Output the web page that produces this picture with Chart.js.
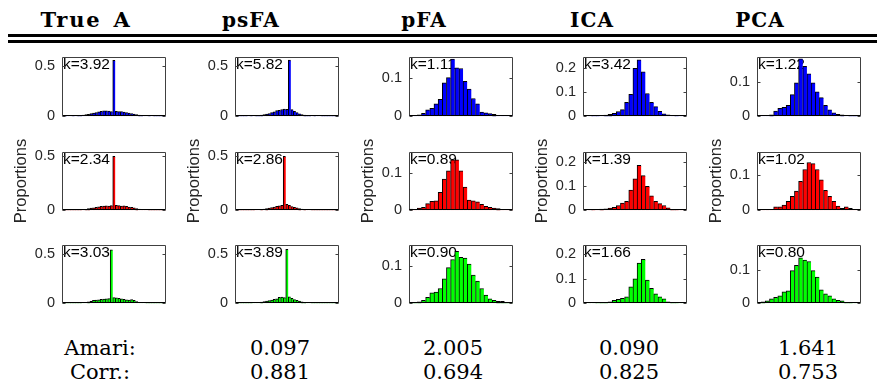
<!DOCTYPE html>
<html><head><meta charset="utf-8">
<script src="https://cdn.jsdelivr.net/npm/chart.js@4.4.1/dist/chart.umd.min.js"></script>
<style>
html,body{margin:0;padding:0;background:#fff;}
#wrap{position:relative;width:885px;height:386px;overflow:hidden;background:#fff;}
.hdr{position:absolute;top:8px;font:bold 20px "DejaVu Serif";transform:translateX(-50%);white-space:nowrap;letter-spacing:1px;color:#000;line-height:normal}
.rule{position:absolute;left:8px;width:869px;height:3px;background:#000}
.ft{position:absolute;font:21px "DejaVu Serif";transform:translateX(-50%);white-space:nowrap;color:#000;line-height:normal}
canvas{position:absolute}
</style></head><body><div id="wrap"></div>
<script>
// ---- data ----
const methods = ["True A", "psFA", "pFA", "ICA", "PCA"];
const rowLabels = ["Amari:", "Corr.:"];
const amari = ["0.097", "2.005", "0.090", "1.641"];
const corr = ["0.881", "0.694", "0.825", "0.753"];
const kurt_trueA = ["3.92", "2.34", "3.03"];
const kurt_psFA = ["5.82", "2.86", "3.89"];
const kurt_pFA = ["1.11", "0.89", "0.90"];
const kurt_ICA = ["3.42", "1.39", "1.66"];
const kurt_PCA = ["1.22", "1.02", "0.80"];

const trueA_comp1 = [0.002,0.002,0.003,0.003,0.004,0.005,0.007,0.010,0.013,0.016,0.020,0.026,0.032,0.038,0.045,0.050,0.054,0.055,0.052,0.048,0.557,0.050,0.046,0.048,0.042,0.038,0.032,0.028,0.022,0.016,0.012,0.009,0.006,0.005,0.004,0.003,0.002,0.002,0.002,0.001,0.001];
const trueA_comp2 = [0.002,0.003,0.004,0.002,0.001,0.002,0.003,0.004,0.006,0.010,0.016,0.020,0.024,0.028,0.032,0.036,0.038,0.042,0.040,0.044,0.500,0.046,0.044,0.038,0.042,0.036,0.030,0.028,0.022,0.016,0.012,0.008,0.006,0.005,0.004,0.003,0.003,0.002,0.002,0.002,0.001];
const trueA_comp3 = [0.001,0.001,0.001,0.002,0.002,0.002,0.003,0.004,0.006,0.010,0.016,0.020,0.030,0.034,0.036,0.040,0.042,0.045,0.048,0.545,0.058,0.055,0.050,0.045,0.040,0.036,0.032,0.038,0.030,0.018,0.010,0.008,0.006,0.005,0.004,0.003,0.003,0.002,0.002,0.001,0.001];
const psFA_comp1 = [0.001,0.001,0.001,0.002,0.002,0.003,0.004,0.005,0.007,0.009,0.012,0.016,0.022,0.028,0.036,0.045,0.058,0.060,0.068,0.072,0.070,0.560,0.066,0.050,0.036,0.025,0.017,0.012,0.009,0.007,0.005,0.004,0.003,0.003,0.002,0.002,0.002,0.001,0.001,0.001,0.001];
const psFA_comp2 = [0.001,0.001,0.001,0.002,0.002,0.002,0.003,0.004,0.005,0.007,0.009,0.012,0.016,0.020,0.025,0.030,0.036,0.042,0.045,0.500,0.055,0.045,0.035,0.028,0.022,0.016,0.012,0.009,0.007,0.005,0.004,0.003,0.003,0.002,0.002,0.002,0.001,0.001,0.001,0.001,0.001];
const psFA_comp3 = [0.001,0.001,0.001,0.002,0.002,0.003,0.004,0.006,0.008,0.010,0.013,0.017,0.022,0.028,0.034,0.040,0.045,0.060,0.062,0.058,0.550,0.065,0.050,0.038,0.030,0.022,0.016,0.011,0.008,0.006,0.004,0.003,0.003,0.002,0.002,0.002,0.001,0.001,0.001,0.001,0.001];
const pFA_comp1 = [0.002,0.002,0.004,0.008,0.017,0.021,0.033,0.045,0.088,0.102,0.151,0.128,0.126,0.092,0.072,0.047,0.033,0.011,0.009,0.007,0.005,0.002,0.002,0.002,0.001];
const pFA_comp2 = [0.003,0.002,0.006,0.008,0.018,0.024,0.026,0.049,0.085,0.107,0.137,0.137,0.107,0.063,0.028,0.026,0.023,0.016,0.011,0.008,0.006,0.005,0.002,0.002,0.001];
const pFA_comp3 = [0.002,0.002,0.004,0.008,0.016,0.028,0.030,0.040,0.066,0.096,0.118,0.140,0.124,0.122,0.106,0.076,0.060,0.040,0.022,0.012,0.008,0.005,0.005,0.002,0.001];
const ICA_comp1 = [0.001,0.001,0.002,0.002,0.003,0.005,0.008,0.012,0.020,0.028,0.058,0.091,0.200,0.235,0.185,0.095,0.058,0.040,0.021,0.010,0.006,0.003,0.002,0.001,0.001];
const ICA_comp2 = [0.001,0.001,0.002,0.003,0.005,0.006,0.009,0.012,0.020,0.030,0.037,0.085,0.132,0.188,0.145,0.100,0.060,0.038,0.028,0.020,0.010,0.004,0.002,0.001,0.001];
const ICA_comp3 = [0.001,0.001,0.001,0.002,0.003,0.004,0.006,0.012,0.016,0.020,0.026,0.067,0.100,0.165,0.180,0.095,0.061,0.039,0.027,0.018,0.006,0.003,0.002,0.001,0.001];
const PCA_comp1 = [0.003,0.003,0.003,0.004,0.015,0.023,0.026,0.032,0.063,0.097,0.167,0.145,0.123,0.097,0.071,0.054,0.032,0.019,0.010,0.006,0.004,0.003,0.002,0.002,0.001];
const PCA_comp2 = [0.002,0.002,0.002,0.003,0.010,0.010,0.015,0.026,0.040,0.055,0.083,0.117,0.137,0.134,0.117,0.087,0.057,0.040,0.026,0.012,0.006,0.010,0.006,0.003,0.002];
const PCA_comp3 = [0.002,0.004,0.007,0.013,0.018,0.022,0.034,0.037,0.097,0.113,0.135,0.128,0.124,0.097,0.078,0.040,0.028,0.022,0.013,0.009,0.007,0.002,0.002,0.001,0.001];

const yTicks_trueA = [0, 0.5];
const yTicks_psFA = [0, 0.5];
const yTicks_pFA = [0, 0.1];
const yTicks_ICA = [0, 0.1, 0.2];
const yTicks_PCA = [0, 0.1];
const yMax_trueA = [0.593, 0.543, 0.596];
const yMax_psFA = [0.593, 0.543, 0.596];
const yMax_pFA = [0.157, 0.159, 0.158];
const yMax_ICA = [0.248, 0.245, 0.240];
const yMax_PCA = [0.173, 0.168, 0.174];

// ---- assembly ----
const columns = [
  {series:[trueA_comp1,trueA_comp2,trueA_comp3], k:kurt_trueA, ticks:yTicks_trueA, ymax:yMax_trueA},
  {series:[psFA_comp1,psFA_comp2,psFA_comp3], k:kurt_psFA, ticks:yTicks_psFA, ymax:yMax_psFA},
  {series:[pFA_comp1,pFA_comp2,pFA_comp3], k:kurt_pFA, ticks:yTicks_pFA, ymax:yMax_pFA},
  {series:[ICA_comp1,ICA_comp2,ICA_comp3], k:kurt_ICA, ticks:yTicks_ICA, ymax:yMax_ICA},
  {series:[PCA_comp1,PCA_comp2,PCA_comp3], k:kurt_PCA, ticks:yTicks_PCA, ymax:yMax_PCA}
];
const compColors = ['#0000ff', '#ff0000', '#00ff00'];

const colLeft = [62, 235, 409, 583, 757];
const plotW = 104;
const rowTop = [53, 148, 241];
const plotH = [67, 66, 66];
const PL = 60, PR = 6, PT = 12, PB = 12;
const hdrX = [86, 251, 424, 592, 760];
const valX = [280, 453, 629, 808];
const labX = 100;

const wrap = document.getElementById('wrap');

methods.forEach((m, i) => {
  const d = document.createElement('div');
  d.className = 'hdr'; d.textContent = m; d.style.left = hdrX[i] + 'px';
  if (i === 0) { d.style.letterSpacing = '1.8px'; d.style.wordSpacing = '3px'; d.style.fontSize = '21px'; d.style.top = '7px'; }
  wrap.appendChild(d);
});
[34, 40].forEach(t => {
  const r = document.createElement('div'); r.className = 'rule'; r.style.top = t + 'px'; wrap.appendChild(r);
});
function addText(txt, x, y) {
  const d = document.createElement('div'); d.className = 'ft'; d.textContent = txt;
  d.style.left = x + 'px'; d.style.top = y + 'px'; wrap.appendChild(d);
}
addText(rowLabels[0], labX, 336);
addText(rowLabels[1], labX, 360);
amari.forEach((v, i) => addText(v, valX[i], 336));
corr.forEach((v, i) => addText(v, valX[i], 360));

const framePlugin = {
  id: 'frame',
  beforeDatasetsDraw(chart, args, opts) {
    const {ctx, chartArea: a} = chart;
    ctx.save();
    ctx.fillStyle = '#000';
    ctx.font = '15.5px "Liberation Sans"';
    ctx.textAlign = 'left';
    ctx.textBaseline = 'alphabetic';
    ctx.fillText(opts.k, a.left + 1, a.top + 12);
    ctx.restore();
  },
  afterDatasetsDraw(chart, args, opts) {
    const {ctx, chartArea: a} = chart;
    const ys = chart.scales.y;
    ctx.save();
    ctx.strokeStyle = '#404040';
    ctx.lineWidth = 1;
    const l = Math.round(a.left) + 0.5, r = Math.round(a.right) - 0.5;
    const t = Math.round(a.top) + 0.5, b = Math.round(a.bottom) - 0.5;
    ctx.beginPath();
    ctx.moveTo(l, b); ctx.lineTo(l, t); ctx.lineTo(r, t); ctx.lineTo(r, b);
    ctx.stroke();
    ctx.strokeStyle = '#000';
    ctx.beginPath(); ctx.moveTo(l, b); ctx.lineTo(r, b); ctx.stroke();
    ctx.strokeStyle = '#404040';
    ys.ticks.forEach(tk => {
      const py = Math.round(ys.getPixelForValue(tk.value)) + 0.5;
      ctx.beginPath();
      ctx.moveTo(l, py); ctx.lineTo(l + 3, py);
      ctx.moveTo(r, py); ctx.lineTo(r - 3, py);
      ctx.stroke();
    });
    if (opts.ylabel) {
      ctx.translate(a.left - 41, (a.top + a.bottom) / 2);
      ctx.rotate(-Math.PI / 2);
      ctx.fillStyle = '#262626';
      ctx.font = '16.5px "Liberation Sans"';
      ctx.textAlign = 'center';
      ctx.textBaseline = 'middle';
      ctx.fillText('Proportions', 0, 0);
    }
    ctx.restore();
  }
};

columns.forEach((col, ci) => {
  col.series.forEach((vals, ri) => {
    const W = PL + plotW + PR, H = PT + plotH[ri] + PB;
    const el = document.createElement('canvas');
    el.width = W; el.height = H;
    el.style.width = W + 'px'; el.style.height = H + 'px';
    el.style.left = (colLeft[ci] - PL) + 'px';
    el.style.top = (rowTop[ri] - PT) + 'px';
    wrap.appendChild(el);
    const cats = vals.map((_, i) => String(i + 1));
    new Chart(el, {
      type: 'bar',
      data: {labels: cats, datasets: [{
        data: vals, backgroundColor: compColors[ri], borderColor: '#000',
        borderWidth: {left: 1, top: 1, right: 0, bottom: 0}, borderSkipped: false,
        barPercentage: 1, categoryPercentage: 1
      }]},
      options: {
        responsive: false, animation: false, events: [], devicePixelRatio: 1,
        layout: {padding: {left: 0, right: PR, top: PT, bottom: PB}},
        plugins: {legend: {display: false}, tooltip: {enabled: false},
          frame: {k: 'k=' + col.k[ri], ylabel: ri === 1}},
        scales: {
          x: {display: false},
          y: {min: 0, max: col.ymax[ri],
            afterBuildTicks: s => { s.ticks = col.ticks.map(v => ({value: v})); },
            afterFit: s => { s.width = PL; },
            ticks: {font: {family: 'Liberation Sans', size: 14.5}, color: '#262626', padding: 7,
              callback: v => String(v)},
            grid: {display: false, drawTicks: false}, border: {display: false}
          }
        }
      },
      plugins: [framePlugin]
    });
  });
});
</script></body></html>
